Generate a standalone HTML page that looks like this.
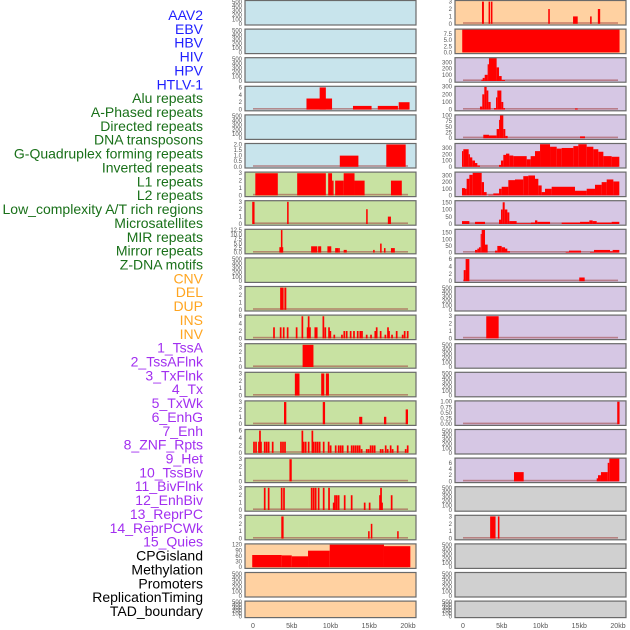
<!DOCTYPE html>
<html><head><meta charset="utf-8"><style>
html,body{margin:0;padding:0;background:#fff;}
svg{display:block;font-family:"Liberation Sans",sans-serif;}
</style></head><body>
<svg id="chart" width="630" height="630" viewBox="0 0 630 630" xmlns="http://www.w3.org/2000/svg">
<g id="labels"></g>
<g id="panels"></g>
<g id="xaxes"></g>
</svg>
<script>
// ---------- data ----------
const trackNames = ["AAV2","EBV","HBV","HIV","HPV","HTLV-1","Alu repeats","A-Phased repeats","Directed repeats","DNA transposons","G-Quadruplex forming repeats","Inverted repeats","L1 repeats","L2 repeats","Low_complexity A/T rich regions","Microsatellites","MIR repeats","Mirror repeats","Z-DNA motifs","CNV","DEL","DUP","INS","INV","1_TssA","2_TssAFlnk","3_TxFlnk","4_Tx","5_TxWk","6_EnhG","7_Enh","8_ZNF_Rpts","9_Het","10_TssBiv","11_BivFlnk","12_EnhBiv","13_ReprPC","14_ReprPCWk","15_Quies","CPGisland","Methylation","Promoters","ReplicationTiming","TAD_boundary"];
const trackGroups = ["virus","virus","virus","virus","virus","virus","repeat","repeat","repeat","repeat","repeat","repeat","repeat","repeat","repeat","repeat","repeat","repeat","repeat","sv","sv","sv","sv","sv","chrom","chrom","chrom","chrom","chrom","chrom","chrom","chrom","chrom","chrom","chrom","chrom","chrom","chrom","chrom","other","other","other","other","other"];
const xTickValues = [0,5,10,15,20];
const xTickLabels = ["0","5kb","10kb","15kb","20kb"];

// bars as [startKb, endKb, value]
const aluBars = [[6.9,10.2,3],[8.6,9.4,6],[12.9,15.3,1],[16.1,18.7,1],[18.8,20.2,2]];
const gquadBars = [[11.2,13.6,1],[17.2,19.7,2]];
const l1Bars = [[0.3,3.2,3],[5.7,9.4,3],[9.7,10.2,3],[10.2,10.4,2],[10.6,11.7,2],[11.7,13.1,3],[13.1,14.4,2],[17.8,19.2,2]];
const lowcBars = [[-0.1,0.2,3],[4.4,4.6,3],[14.6,14.8,2],[17.4,17.8,1]];
const mirBars = [[3.4,3.9,3],[3.6,3.8,12.5],[7.5,8.3,3.5],[8.4,8.8,3.5],[9.6,10.1,3.5],[10.6,11.0,2.5],[11.0,11.2,2.5],[11.7,12.1,1.5],[15.5,15.7,1.5],[16.4,16.6,5],[16.9,17.1,2.5],[17.8,18.3,2.5]];
const cnvBars = [[3.5,3.95,3],[4.05,4.3,3]];
const delPos = [2.71,3.57,3.96,4.47,5.63,6.37,7.05,7.18,7.35,8.04,8.22,9.08,9.33,9.81,9.98,10.49,11.48,11.78,12.09,12.6,13.03,13.51,13.85,14.06,14.67,15.23,15.78,15.96,16.47,17.08,17.42,17.55,17.94,18.54,19.31,19.57,19.96];
const delVal = [3,3,3,3,3,6,3,6,3,3,3,6,3,3,2,1,1,2,2,2,2,2,2,2,1,1,2,3,2,1,3,2,1,2,1,2,2];
const dupBars = [[6.4,7.8,3]];
const insBars = [[5.4,6.0,3],[8.8,9.2,3],[9.4,9.8,3]];
const invBars = [[4.0,4.3,3],[9.0,9.3,3],[13.7,14.1,1],[16.9,17.2,1],[19.7,20.0,2]];
const s15Pos = [0.13,0.39,0.77,0.9,1.03,1.51,1.76,2.02,2.54,3.61,3.87,4.13,6.37,6.54,6.8,7.18,7.66,7.83,8.09,8.34,8.6,9.12,9.76,10.02,10.67,11.05,11.31,11.57,12.22,12.73,12.99,13.25,13.51,13.76,14.02,14.67,14.92,15.18,15.44,15.7,16.47,16.73,17.12,17.38,17.76,18.02,18.67,19.7,19.96];
const s15Val = [3,3,3,6,3,3,3,3,3,3,3,3,6,3,3,3,6,3,3,3,3,3,3,2,2,2,2,2,2,2,2,2,2,2,1,1,1,2,2,2,1,1,2,1,2,1,2,1,2];
const s16Bars = [[4.7,5.0,3]];
const s17Pos = [1.51,2.02,3.7,4.0,7.57,7.83,8.09,8.47,9.12,9.81,10.41,10.58,10.8,11.05,11.83,12.73,14.41,15.05,16.39,16.52,16.65,17.89];
const s17Val = [3,3,3,3,3,3,3,3,3,3,1,2,2,2,2,2,1,1,2,3,1,2];
const s18Bars = [[3.65,3.85,3],[3.8,3.95,3],[14.85,15.05,1],[15.2,15.4,2],[18.6,18.8,1]];
const cpgEdges = [-0.1,3.7,5.0,7.1,9.9,16.9,20.3];
const cpgVal = [65,63,58,88,120,112];

const r0Bars = [[2.45,2.7,3],[3.3,3.5,3],[3.6,3.8,3],[11.0,11.2,2],[14.2,14.8,1],[16.4,16.6,1],[17.4,17.7,2]];
const r1Bars = [[-0.1,20.2,9.4]];
const r2Edges = [2.37,2.54,2.80,3.18,3.35,4.34,4.65,4.99,5.42];
const r2Val = [20,50,100,270,370,220,80,15];
const r3Edges = [2.19,2.49,2.75,3.05,3.27,3.57,4.0,4.26,4.43,4.95,5.2,5.42];
const r3Val = [40,200,300,250,100,0,20,160,250,100,20];
const r3Extra = [[14.45,14.8,15]];
const r4Edges = [2.62,3.35,4.34,4.65,4.77,5.2,5.46,5.76];
const r4Val = [15,12,40,80,100,40,10];
const r4Extra = [[15.1,15.74,8]];
const r5Edges = [-0.13,0.04,0.73,0.9,1.2,1.55,1.85,2.19,4.65,4.9,5.2,5.55,5.98,6.49,8.22,8.73,9.29,9.94,11.23,12.09,12.73,14.24,14.88,15.96,16.82,17.46,18.11,19.18,20.17];
const r5Val = [250,280,200,150,100,60,20,0,30,100,190,210,180,170,120,170,250,360,320,290,300,330,360,320,280,240,170,160];
const r6Edges = [-0.13,0.26,0.47,0.82,1.25,2.41,2.71,3.05,3.27,3.91,4.65,4.99,5.85,6.71,7.78,8.43,9.29,9.72,10.15,10.58,11.44,14.45,15.96,17.03,17.89,18.54,19.4,20.17];
const r6Val = [110,100,250,310,340,200,50,0,10,30,100,130,230,240,290,300,250,150,50,100,130,70,100,160,200,240,210];
const r7Edges = [-0.13,0.82,1.55,2.84,4.65,4.9,5.12,5.38,5.72,5.98,6.92,8.77,9.29,9.59,11.23,12.73,15.1,16.3,16.73,17.25,19.18,20.17];
const r7Val = [20,0,15,0,30,100,150,100,80,20,5,10,25,15,0,10,15,25,20,10,15];
const r8Edges = [1.55,1.85,2.06,2.28,2.41,2.84,3.18,4.13,4.43,4.99,5.42,5.72,6.06,13.25,13.68,15.23,16.39,16.9,18.97,19.31,20.17];
const r8Val = [20,30,40,140,170,60,0,15,50,40,30,10,0,5,15,0,5,20,10,20];
const r9Bars = [[0.09,0.34,3],[0.34,0.82,6],[15.0,15.7,1]];
const r11Bars = [[3.0,4.6,3]];
const r14Bars = [[19.9,20.2,1]];
const r16Bars = [[6.58,7.83,3],[17.25,17.42,1],[17.42,17.8,2],[17.8,18.67,3],[18.67,18.88,6],[18.88,20.17,7.4]];
const r18Bars = [[3.5,4.2,3],[4.5,4.7,3]];

const T500 = [0,100,200,300,400,500];
const BG = {blue:"#c8e4ec",green:"#c8e2a2",peach:"#ffd1a1",purple:"#d6c7e4",gray:"#d0d0d0"};

function fromSteps(edges, vals){ const out=[]; for(let i=0;i<vals.length;i++){ if(vals[i]>0) out.push([edges[i],edges[i+1],vals[i]]);} return out; }
function fromPos(pos, vals, w){ const out=[]; const n=Math.min(pos.length,vals.length); for(let i=0;i<n;i++) out.push([pos[i]-w/2,pos[i]+w/2,vals[i]]); return out; }

const leftPanels = [
 {bg:"blue",ymax:520,ticks:T500,bars:[]},
 {bg:"blue",ymax:520,ticks:T500,bars:[]},
 {bg:"blue",ymax:520,ticks:T500,bars:[]},
 {bg:"blue",ymax:6.2,ticks:[0,2,4,6],bars:aluBars},
 {bg:"blue",ymax:520,ticks:T500,bars:[]},
 {bg:"blue",ymax:2.05,ticks:[0,0.5,1,1.5,2],fmt:1,bars:gquadBars},
 {bg:"green",ymax:3.1,ticks:[0,1,2,3],bars:l1Bars},
 {bg:"green",ymax:3.1,ticks:[0,1,2,3],bars:lowcBars},
 {bg:"green",ymax:12.7,ticks:[0,2.5,5,7.5,10,12.5],fmt:1,bars:mirBars},
 {bg:"green",ymax:520,ticks:T500,bars:[]},
 {bg:"green",ymax:3.1,ticks:[0,1,2,3],bars:cnvBars},
 {bg:"green",ymax:6.2,ticks:[0,2,4,6],bars:fromPos(delPos,delVal,0.22)},
 {bg:"green",ymax:3.1,ticks:[0,1,2,3],bars:dupBars},
 {bg:"green",ymax:3.1,ticks:[0,1,2,3],bars:insBars},
 {bg:"green",ymax:3.1,ticks:[0,1,2,3],bars:invBars},
 {bg:"green",ymax:6.2,ticks:[0,2,4,6],bars:fromPos(s15Pos,s15Val,0.22)},
 {bg:"green",ymax:3.1,ticks:[0,1,2,3],bars:s16Bars},
 {bg:"green",ymax:3.1,ticks:[0,1,2,3],bars:fromPos(s17Pos,s17Val,0.22)},
 {bg:"green",ymax:3.1,ticks:[0,1,2,3],bars:s18Bars},
 {bg:"peach",ymax:122,ticks:[0,30,60,90,120],bars:fromSteps(cpgEdges,cpgVal)},
 {bg:"peach",ymax:520,ticks:T500,bars:[]},
 {bg:"peach",ymax:520,ticks:T500,bars:[]}
];
const rightPanels = [
 {bg:"peach",ymax:3.1,ticks:[0,1,2,3],bars:r0Bars},
 {bg:"peach",ymax:9.4,ticks:[0,2.5,5,7.5],fmt:1,bars:r1Bars},
 {bg:"purple",ymax:370,ticks:[0,100,200,300],bars:fromSteps(r2Edges,r2Val)},
 {bg:"purple",ymax:300,ticks:[0,100,200,300],bars:fromSteps(r3Edges,r3Val).concat(r3Extra)},
 {bg:"purple",ymax:100,ticks:[0,25,50,75,100],bars:fromSteps(r4Edges,r4Val).concat(r4Extra)},
 {bg:"purple",ymax:365,ticks:[0,100,200,300],bars:fromSteps(r5Edges,r5Val)},
 {bg:"purple",ymax:345,ticks:[0,100,200,300],bars:fromSteps(r6Edges,r6Val)},
 {bg:"purple",ymax:158,ticks:[0,50,100,150],bars:fromSteps(r7Edges,r7Val)},
 {bg:"purple",ymax:172,ticks:[0,50,100,150],bars:fromSteps(r8Edges,r8Val)},
 {bg:"purple",ymax:6.2,ticks:[0,2,4,6],bars:r9Bars},
 {bg:"purple",ymax:520,ticks:T500,bars:[]},
 {bg:"purple",ymax:3.1,ticks:[0,1,2,3],bars:r11Bars},
 {bg:"purple",ymax:520,ticks:T500,bars:[]},
 {bg:"purple",ymax:520,ticks:T500,bars:[]},
 {bg:"purple",ymax:1.02,ticks:[0,0.25,0.5,0.75,1],fmt:2,bars:r14Bars},
 {bg:"purple",ymax:520,ticks:T500,bars:[]},
 {bg:"purple",ymax:7.4,ticks:[0,2,4,6],bars:r16Bars},
 {bg:"gray",ymax:520,ticks:T500,bars:[]},
 {bg:"gray",ymax:3.1,ticks:[0,1,2,3],bars:r18Bars},
 {bg:"gray",ymax:520,ticks:T500,bars:[]},
 {bg:"gray",ymax:520,ticks:T500,bars:[]},
 {bg:"gray",ymax:520,ticks:T500,bars:[]}
];

// ---------- drawing ----------
const NS="http://www.w3.org/2000/svg";
function mk(tag, attrs, parent){ const e=document.createElementNS(NS,tag); for(const k in attrs) e.setAttribute(k,attrs[k]); parent.appendChild(e); return e; }
const groupColor = {virus:"#1f1fff",repeat:"#197019",sv:"#ffa520",chrom:"#a22ff0",other:"#000"};

const labelG=document.getElementById("labels");
trackNames.forEach((name,i)=>{
  const t=mk("text",{x:203,y:20+i*13.86,"text-anchor":"end","font-size":"14",fill:groupColor[trackGroups[i]]},labelG);
  t.textContent=name;
  
  
});

const panelG=document.getElementById("panels");
function drawColumn(panels, px0, colName){
  const kb0 = px0+8, pxPerKb=7.75, W=171;
  const xs = kb => kb0 + kb*pxPerKb;
  panels.forEach((p,i)=>{
    const top = i*28.6 + 0.5;
    const h = (i===panels.length-1) ? 16.5 : 24.5;
    const g = mk("g",{},panelG);
    
    
    mk("rect",{x:px0,y:top,width:W,height:h,fill:BG[p.bg]},g);
    const bottom = top + h - 1.2;
    const ys = v => bottom - v/p.ymax*(h-1.6);
    if(p.bars.length){
      const bl=mk("rect",{x:xs(0),y:bottom-1.6,width:xs(20)-xs(0),height:1.6,fill:"#a04040","fill-opacity":"0.55"},g);
      
      
    }
    p.bars.forEach(b=>{
      const x1=xs(b[0]), x2=xs(b[1]), y=ys(b[2]);
      const r=mk("rect",{x:x1,y:y,width:Math.max(0.9,x2-x1),height:Math.max(0,bottom-y),fill:"#ff0000"},g);
      
      
    });
    mk("rect",{x:px0,y:top,width:W,height:h,fill:"none",stroke:"#6a6a6a","stroke-width":"1.2"},g);
    p.ticks.forEach(tv=>{
      const ty = ys(tv);
      const t=mk("text",{x:px0-3,y:ty+2,"text-anchor":"end","font-size":"6",fill:"#555"},g);
      t.textContent = p.fmt ? tv.toFixed(p.fmt) : String(tv);
      
      
    });
  });
  const ax=document.getElementById("xaxes");
  xTickValues.forEach((v,i)=>{
    const t=mk("text",{x:xs(v),y:628,"text-anchor":"middle","font-size":"7",fill:"#555"},ax);
    t.textContent=xTickLabels[i];
    
    
  });
}
drawColumn(leftPanels,245,"left");
drawColumn(rightPanels,455,"right");
</script>
</body></html>
